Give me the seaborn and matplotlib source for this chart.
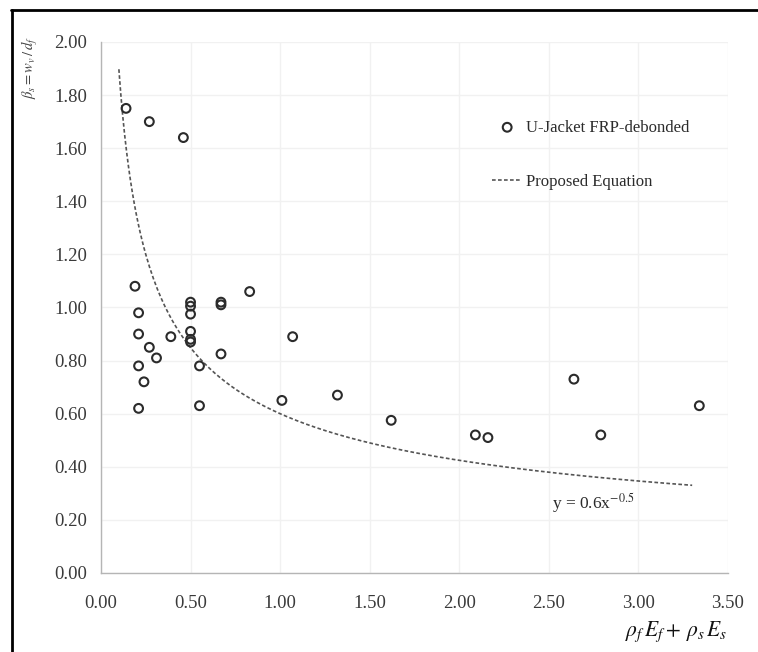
import numpy as np
import pandas as pd
import matplotlib
matplotlib.use("Agg")
import matplotlib.pyplot as plt
from matplotlib.lines import Line2D
import seaborn as sns

# Test specimens: combined stiffness index vs. strain ratio
stiffness = [0.14, 0.27, 0.46, 0.19, 0.21, 0.21, 0.27, 0.31, 0.21, 0.24,
             0.21, 0.39, 0.50, 0.50, 0.50, 0.50, 0.50, 0.50, 0.67, 0.67,
             0.83, 1.07, 0.67, 0.55, 0.55, 1.01, 1.32, 1.62, 2.09, 2.16,
             2.64, 2.79, 3.34]
beta = [1.75, 1.70, 1.64, 1.08, 0.98, 0.90, 0.85, 0.81, 0.78, 0.72,
        0.62, 0.89, 1.02, 1.005, 0.975, 0.91, 0.88, 0.87, 1.02, 1.01,
        1.06, 0.89, 0.825, 0.78, 0.63, 0.65, 0.67, 0.575, 0.52, 0.51,
        0.73, 0.52, 0.63]

# Proposed design equation  y = a * x^b
coef_a = 0.6
coef_b = -0.5
eq_x_start, eq_x_end = 0.1, 3.3

x_ticks = [0.0, 0.5, 1.0, 1.5, 2.0, 2.5, 3.0, 3.5]
y_ticks = [0.0, 0.2, 0.4, 0.6, 0.8, 1.0, 1.2, 1.4, 1.6, 1.8, 2.0]

sns.set_theme(style="white")
plt.rcParams["font.family"] = ["Liberation Serif", "DejaVu Serif"]
plt.rcParams["mathtext.fontset"] = "stix"

pts = pd.DataFrame({"x": stiffness, "y": beta})
xs = np.linspace(eq_x_start, eq_x_end, 300)
curve = pd.DataFrame({"x": xs, "y": coef_a * xs ** coef_b})

fig = plt.figure(figsize=(7.58, 6.52), dpi=100)
ax = fig.add_axes([0.1332, 0.1212, 0.8272, 0.8144])

sns.scatterplot(data=pts, x="x", y="y", ax=ax, marker="o", s=40,
                facecolor="none", edgecolor="#2b2b2b", linewidth=1.5,
                label="U-Jacket FRP-debonded", zorder=3)
sns.lineplot(data=curve, x="x", y="y", ax=ax, color="#555555",
             linewidth=1.2, linestyle=(0, (2.2, 1.4)),
             label="Proposed Equation", zorder=2)

ax.set_xlim(0, 3.5)
ax.set_ylim(0, 2.0)
ax.set_xticks(x_ticks)
ax.set_yticks(y_ticks)
ax.set_xticklabels([f"{v:.2f}" for v in x_ticks])
ax.set_yticklabels([f"{v:.2f}" for v in y_ticks])
ax.set_xlabel("")
ax.set_ylabel("")

ax.grid(True, color="#f1f1f1", linewidth=1.0)
for side in ("top", "right"):
    ax.spines[side].set_visible(False)
for side in ("left", "bottom"):
    ax.spines[side].set_color("#b5b5b5")
    ax.spines[side].set_linewidth(1.0)

ax.tick_params(axis="both", colors="#b5b5b5", labelcolor="#3a3a3a",
               labelsize=13.5, direction="out", length=5, width=1.0)
ax.tick_params(axis="y", pad=5)
ax.tick_params(axis="x", pad=11)

leg = ax.legend(loc="upper left", bbox_to_anchor=(0.600, 0.882),
                frameon=False, fontsize=12, handlelength=1.8,
                handletextpad=0.2, labelspacing=2.3)
for t in leg.get_texts():
    t.set_color("#2b2b2b")

ax.text(2.52, 0.262, r"y = 0.6x$^{-0.5}$", fontsize=12.5,
        color="#2b2b2b", va="center", ha="left")

fig.text(0.824, 0.031, r"$\rho_f\,E_f + \,\rho_s\,E_s$", fontsize=15.5,
         color="#111111", ha="left", va="center")
fig.text(0.040, 0.896, r"$\beta_s = w_v\,/\,d_f$", fontsize=10.5,
         color="#444444", rotation=90, ha="center", va="center")

# outer frame lines
fig.add_artist(Line2D([11 / 758, 1.0], [1 - 10 / 652, 1 - 10 / 652],
                      color="black", linewidth=2.0, transform=fig.transFigure))
fig.add_artist(Line2D([12 / 758, 12 / 758], [0.0, 1 - 10 / 652],
                      color="black", linewidth=2.0, transform=fig.transFigure))

fig.savefig("out.png", dpi=100, facecolor="white")
